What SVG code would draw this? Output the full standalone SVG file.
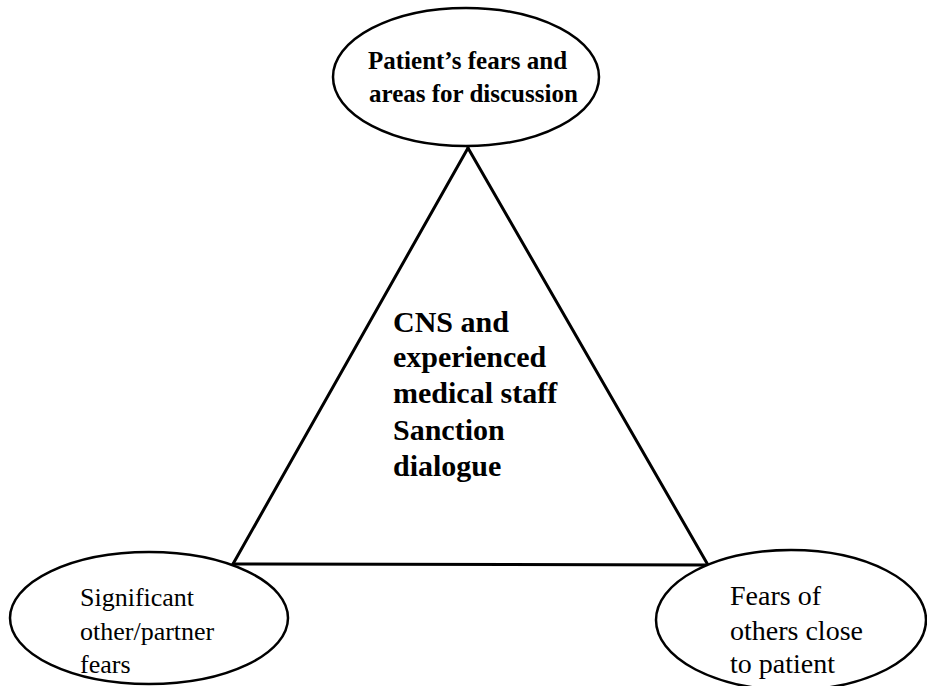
<svg xmlns="http://www.w3.org/2000/svg" width="927" height="686" viewBox="0 0 927 686">
<style>
.bg{fill:#fff}
.edge{stroke:#000;stroke-width:3;stroke-linecap:round;fill:none}
.oval{fill:#fff;stroke:#000;stroke-width:2.5}
.tb{font-family:"Liberation Serif","Times New Roman",serif;font-weight:bold;fill:#000}
.tr{font-family:"Liberation Serif","Times New Roman",serif;fill:#000}
</style>
<rect class="bg" x="0" y="0" width="927" height="686"/>
<g id="connectors">
<line class="edge" x1="468" y1="148" x2="233" y2="564"/>
<line class="edge" x1="468" y1="148" x2="708" y2="565"/>
<line class="edge" x1="233" y1="564" x2="708" y2="565"/>
</g>
<g id="node-patient">
<ellipse class="oval" cx="466" cy="77" rx="133" ry="69"/>
<text class="tb" font-size="25" x="368" y="69">Patient’s fears and</text>
<text class="tb" font-size="25" x="369" y="102">areas for discussion</text>
</g>
<g id="node-cns">
<text class="tb" font-size="30" x="393" y="332">CNS and</text>
<text class="tb" font-size="30" x="393" y="367">experienced</text>
<text class="tb" font-size="30" x="393" y="403">medical staff</text>
<text class="tb" font-size="30" x="393" y="440">Sanction</text>
<text class="tb" font-size="30" x="393" y="476">dialogue</text>
</g>
<g id="node-partner">
<ellipse class="oval" cx="149" cy="618" rx="139" ry="66"/>
<text class="tr" font-size="26" x="80" y="606">Significant</text>
<text class="tr" font-size="26" x="80" y="640">other/partner</text>
<text class="tr" font-size="26" x="80" y="673">fears</text>
</g>
<g id="node-others">
<ellipse class="oval" cx="791" cy="620" rx="135" ry="70"/>
<text class="tr" font-size="28" x="730" y="605">Fears of</text>
<text class="tr" font-size="28" x="730" y="640">others close</text>
<text class="tr" font-size="28" x="730" y="673">to patient</text>
</g>
</svg>
